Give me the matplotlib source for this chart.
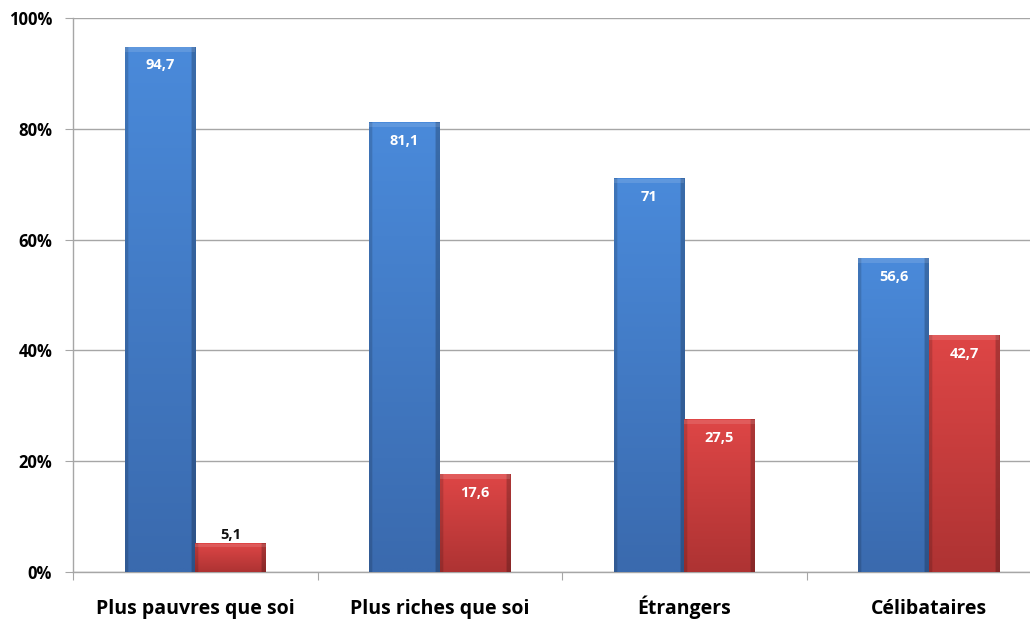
import numpy as np
import matplotlib
matplotlib.use("Agg")
import matplotlib.pyplot as plt
from matplotlib.colors import to_rgb
from matplotlib.transforms import blended_transform_factory

categories = ["Plus pauvres que soi", "Plus riches que soi", "Étrangers", "Célibataires"]
blue_values = [94.7, 81.1, 71, 56.6]
red_values = [5.1, 17.6, 27.5, 42.7]
blue_labels = ["94,7", "81,1", "71", "56,6"]
red_labels = ["5,1", "17,6", "27,5", "42,7"]
y_ticks = [0, 20, 40, 60, 80, 100]
y_tick_labels = ["0%", "20%", "40%", "60%", "80%", "100%"]

plt.rcParams['font.family'] = ['Open Sans', 'DejaVu Sans']

fig = plt.figure(figsize=(10.30, 6.21), dpi=100)
ax = fig.add_axes([73/1030, 49/621, 978/1030, 554/621])

x = np.arange(len(categories))
w = 0.288

blue_bars = ax.bar(x - w/2, blue_values, width=w, color='none', edgecolor='none', zorder=3)
red_bars = ax.bar(x + w/2, red_values, width=w, color='none', edgecolor='none', zorder=3)


def grad_image(top, bottom, n=64):
    top = np.array(to_rgb(top)); bottom = np.array(to_rgb(bottom))
    t = np.linspace(0, 1, n)[:, None, None]
    img = top * (1 - t) + bottom * t
    img = np.repeat(img, n, axis=1)
    xs = np.linspace(0, 1, n)
    edge = np.ones(n)
    edge[xs < 0.04] = 0.85
    edge[xs > 0.95] = 0.78
    img = img * edge[None, :, None]
    return np.clip(img, 0, 1)


def fill_bars(bars, top, bottom):
    img = grad_image(top, bottom)
    for b in bars:
        x0, y0 = b.get_x(), b.get_y()
        ww, hh = b.get_width(), b.get_height()
        ax.imshow(img, extent=[x0, x0 + ww, y0, y0 + hh], aspect='auto',
                  zorder=3, interpolation='bilinear', origin='upper')
        ax.fill_between([x0, x0 + ww], y0 + hh - min(0.8, hh * 0.12), y0 + hh,
                        color='white', alpha=0.12, lw=0, zorder=4)


fill_bars(blue_bars, '#4A8ADA', '#3A6AAE')
fill_bars(red_bars, '#DE4646', '#AE3333')

ax.set_xlim(-0.5, len(categories) - 0.5)
ax.set_ylim(0, 100)

for xi, v, lab in zip(x, blue_values, blue_labels):
    ax.text(xi - w/2, v - 2.0, lab, ha='center', va='top', color='white',
            fontsize=10.5, fontweight='bold', zorder=5)
for xi, v, lab in zip(x, red_values, red_labels):
    if v < 8:
        ax.text(xi + w/2, v + 0.4, lab, ha='center', va='bottom', color='#101010',
                fontsize=10.5, fontweight='bold', zorder=5)
    else:
        ax.text(xi + w/2, v - 2.0, lab, ha='center', va='top', color='white',
                fontsize=10.5, fontweight='bold', zorder=5)

ax.set_yticks(y_ticks)
ax.set_yticklabels(y_tick_labels, fontsize=12, fontweight='bold')
ax.yaxis.grid(True, color='#A6A6A6', lw=1, zorder=0)
ax.set_axisbelow(True)
ax.tick_params(axis='y', length=6, color='#A6A6A6', pad=9)

ax.set_xticks(np.arange(len(categories) + 1) - 0.5)
ax.set_xticklabels([])
ax.tick_params(axis='x', which='major', length=6, color='#A6A6A6')

trans = blended_transform_factory(ax.transData, ax.transAxes)
for xi, cat in zip(x, categories):
    ax.text(xi, -0.0758, cat, transform=trans, ha='center', va='baseline',
            fontsize=14, fontweight='bold', color='#000000')

for s in ['top', 'right']:
    ax.spines[s].set_visible(False)
for s in ['left', 'bottom']:
    ax.spines[s].set_color('#A6A6A6')
    ax.spines[s].set_linewidth(1)

fig.savefig('out.png', dpi=100, facecolor='white')
